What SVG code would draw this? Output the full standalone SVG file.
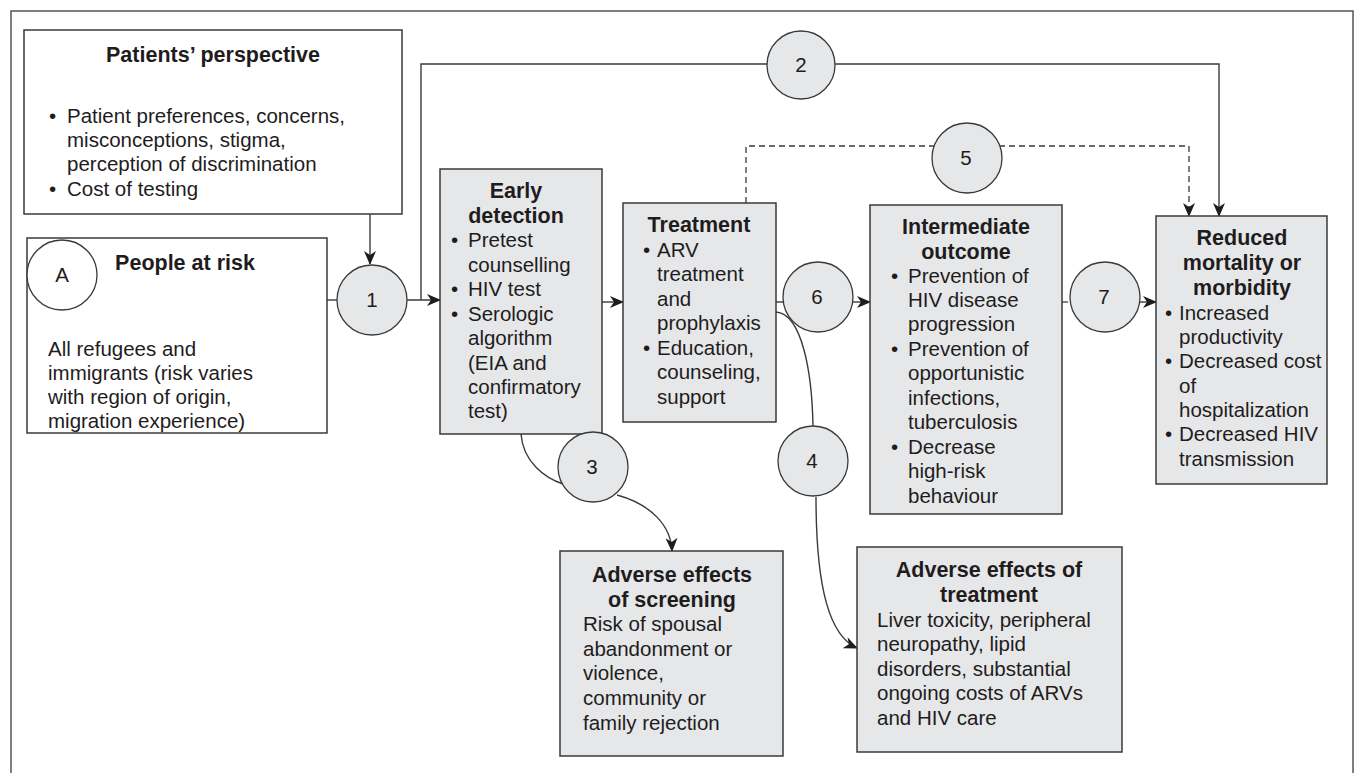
<svg xmlns="http://www.w3.org/2000/svg" width="1355" height="773" viewBox="0 0 1355 773">
<style>
text{font-family:"Liberation Sans",Arial,sans-serif;font-size:20.5px;fill:#1f1c1d}
.t{font-weight:bold;font-size:21.5px;text-anchor:middle}
.c{text-anchor:middle;font-size:20.5px}
.box{fill:#ffffff;stroke:#3a3a3a;stroke-width:1.5}
.gbox{fill:#e6e7e8;stroke:#3a3a3a;stroke-width:1.5}
.circ{fill:#e6e7e8;stroke:#3a3a3a;stroke-width:1.3}
.ln{fill:none;stroke:#3a3a3a;stroke-width:1.4}
.dash{fill:none;stroke:#3a3a3a;stroke-width:1.3;stroke-dasharray:6 4}
</style>
<defs>
<marker id="ah" viewBox="0 0 14 12" refX="13" refY="6" markerWidth="14" markerHeight="12" markerUnits="userSpaceOnUse" orient="auto">
<path d="M0,0 L14,6 L0,12 L4,6 z" fill="#1f1c1d"/>
</marker>
</defs>
<rect width="1355" height="773" fill="#ffffff"/>
<path d="M11,773 V11 H1353 V773" fill="none" stroke="#555" stroke-width="1.5"/>

<g id="connectors">
<path class="ln" d="M370,214 V264" marker-end="url(#ah)"/>
<path class="ln" d="M327,300 H337"/>
<path class="ln" d="M407,300 H440" marker-end="url(#ah)"/>
<path class="ln" d="M421,300 V64 H767"/>
<path class="ln" d="M835,64 H1219 V216" marker-end="url(#ah)"/>
<path class="dash" d="M746,203 V146 H1189 V216" marker-end="url(#ah)"/>
<path class="ln" d="M593,302 H623" marker-end="url(#ah)"/>
<path class="ln" d="M776,302 H783"/>
<path class="ln" d="M853,302 H870" marker-end="url(#ah)"/>
<path class="dash" d="M1062,302 H1070"/>
<path class="ln" d="M1140,302 H1156" marker-end="url(#ah)"/>
<path class="ln" d="M521,434 C523,462 545,478 563,484"/>
<path class="ln" d="M617,495 C650,504 671,525 672,551" marker-end="url(#ah)"/>
<path class="ln" d="M776,312 C802,314 812,372 813,426"/>
<path class="ln" d="M816,497 C816,590 830,636 857,648" marker-end="url(#ah)"/>
</g>

<g id="patients">
<rect class="box" x="24" y="30" width="378" height="184"/>
<text class="t" x="213" y="62">Patients’ perspective</text>
<text x="49" y="123">•</text><text x="67" y="123">Patient preferences, concerns,</text>
<text x="67" y="147">misconceptions, stigma,</text>
<text x="67" y="171">perception of discrimination</text>
<text x="49" y="196">•</text><text x="67" y="196">Cost of testing</text>
</g>

<g id="people">
<rect class="box" x="27" y="238" width="300" height="195"/>
<circle cx="62" cy="275" r="35" fill="#fff" stroke="#3a3a3a" stroke-width="1.3"/>
<text class="c" x="62" y="282">A</text>
<text class="t" x="185" y="270">People at risk</text>
<text x="48" y="356">All refugees and</text>
<text x="48" y="380">immigrants (risk varies</text>
<text x="48" y="404">with region of origin,</text>
<text x="48" y="428">migration experience)</text>
</g>

<g id="early">
<rect class="gbox" x="440" y="169" width="162" height="265"/>
<text class="t" x="516" y="198">Early</text>
<text class="t" x="516" y="223">detection</text>
<text x="451" y="247">•</text><text x="468" y="247">Pretest</text>
<text x="468" y="272">counselling</text>
<text x="451" y="296">•</text><text x="468" y="296">HIV test</text>
<text x="451" y="321">•</text><text x="468" y="321">Serologic</text>
<text x="468" y="345">algorithm</text>
<text x="468" y="370">(EIA and</text>
<text x="468" y="394">confirmatory</text>
<text x="468" y="418">test)</text>
</g>

<g id="treatment">
<rect class="gbox" x="623" y="203" width="153" height="219"/>
<text class="t" x="699" y="232">Treatment</text>
<text x="643" y="257">•</text><text x="657" y="257">ARV</text>
<text x="657" y="281">treatment</text>
<text x="657" y="306">and</text>
<text x="657" y="330">prophylaxis</text>
<text x="643" y="355">•</text><text x="657" y="355">Education,</text>
<text x="657" y="379">counseling,</text>
<text x="657" y="404">support</text>
</g>

<g id="intermediate">
<rect class="gbox" x="870" y="205" width="192" height="309"/>
<text class="t" x="966" y="234">Intermediate</text>
<text class="t" x="966" y="259">outcome</text>
<text x="891" y="283">•</text><text x="908" y="283">Prevention of</text>
<text x="908" y="307">HIV disease</text>
<text x="908" y="331">progression</text>
<text x="891" y="356">•</text><text x="908" y="356">Prevention of</text>
<text x="908" y="380">opportunistic</text>
<text x="908" y="405">infections,</text>
<text x="908" y="429">tuberculosis</text>
<text x="891" y="454">•</text><text x="908" y="454">Decrease</text>
<text x="908" y="478">high-risk</text>
<text x="908" y="503">behaviour</text>
</g>

<g id="reduced">
<rect class="gbox" x="1156" y="216" width="171" height="268"/>
<text class="t" x="1242" y="245">Reduced</text>
<text class="t" x="1242" y="270">mortality or</text>
<text class="t" x="1242" y="295">morbidity</text>
<text x="1165" y="320">•</text><text x="1179" y="320">Increased</text>
<text x="1179" y="344">productivity</text>
<text x="1165" y="368">•</text><text x="1179" y="368">Decreased cost</text>
<text x="1179" y="393">of</text>
<text x="1179" y="417">hospitalization</text>
<text x="1165" y="441">•</text><text x="1179" y="441">Decreased HIV</text>
<text x="1179" y="466">transmission</text>
</g>

<g id="adverse-screening">
<rect class="gbox" x="560" y="551" width="223" height="205"/>
<text class="t" x="672" y="582">Adverse effects</text>
<text class="t" x="672" y="607">of screening</text>
<text x="583" y="631">Risk of spousal</text>
<text x="583" y="656">abandonment or</text>
<text x="583" y="680">violence,</text>
<text x="583" y="705">community or</text>
<text x="583" y="730">family rejection</text>
</g>

<g id="adverse-treatment">
<rect class="gbox" x="857" y="547" width="265" height="205"/>
<text class="t" x="989" y="577">Adverse effects of</text>
<text class="t" x="989" y="602">treatment</text>
<text x="877" y="627">Liver toxicity, peripheral</text>
<text x="877" y="651">neuropathy, lipid</text>
<text x="877" y="676">disorders, substantial</text>
<text x="877" y="700">ongoing costs of ARVs</text>
<text x="877" y="725">and HIV care</text>
</g>

<g id="circles">
<g id="c1"><circle class="circ" cx="372" cy="300" r="35"/><text class="c" x="372" y="307">1</text></g>
<g id="c2"><circle class="circ" cx="801" cy="65" r="34"/><text class="c" x="801" y="72">2</text></g>
<g id="c3"><circle class="circ" cx="593" cy="467" r="35"/><text class="c" x="592" y="474">3</text></g>
<g id="c4"><circle class="circ" cx="813" cy="461" r="35"/><text class="c" x="812" y="468">4</text></g>
<g id="c5"><circle class="circ" cx="967" cy="158" r="35"/><text class="c" x="966" y="165">5</text></g>
<g id="c6"><circle class="circ" cx="818" cy="297" r="35"/><text class="c" x="817" y="304">6</text></g>
<g id="c7"><circle class="circ" cx="1105" cy="297" r="35"/><text class="c" x="1104" y="304">7</text></g>
</g>
</svg>
